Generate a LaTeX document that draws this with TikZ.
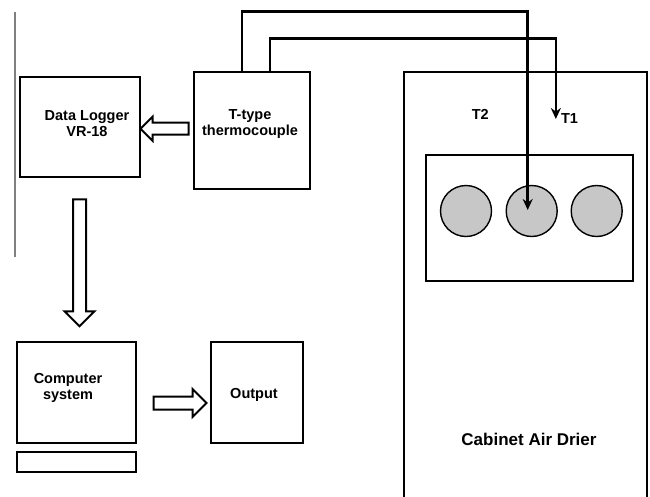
\documentclass[tikz,border=0pt]{standalone}
\usepackage{fontspec}
\setmainfont{Liberation Sans}
\usetikzlibrary{arrows.meta,shapes.arrows}

\tikzset{
  box/.style={draw,line width=2.8pt,inner sep=0pt},
  lbl/.style={font=\fontsize{14.5}{16}\selectfont\bfseries,align=center,inner sep=0pt},
  hollow/.style={single arrow,draw,line width=2pt,inner sep=0pt,text width=0pt,
    text depth=0pt,single arrow tip angle=90},
  wire/.style={line width=2.5pt,-{Stealth[length=11pt,width=10pt]}},
  bead/.style={circle,draw,line width=1.4pt,fill=black!22,minimum size=51pt,inner sep=0pt}
}

\begin{document}
\begin{tikzpicture}[x=1pt,y=-1pt]
\useasboundingbox (0,0) rectangle (650,496);
% stray edge line on the left
\draw[line width=1.2pt,black!50] (15,12) -- (15,257);
% blocks
\node[box,minimum width=120pt,minimum height=100pt] (logger) at (80,127) {};
\node[box,minimum width=116pt,minimum height=117pt] (tc) at (252,130.5) {};
\node[box,minimum width=119pt,minimum height=101pt] (comp) at (76.5,392.5) {};
\node[box,minimum width=119pt,minimum height=20pt] (kbd) at (76.5,462) {};
\node[box,minimum width=92pt,minimum height=101pt] (out) at (257,392.5) {};
% drier and its tray
\node[box,minimum width=243pt,minimum height=448pt] (cab) at (525.5,296) {};
\node[box,minimum width=207pt,minimum height=126pt] (tray) at (529.5,218) {};
\node[bead] (c1) at (466,211) {};
\node[bead] (c2) at (531.7,211) {};
\node[bead] (c3) at (596.7,211) {};
% texts
\node[lbl] (loggertxt) at ([xshift=7pt,yshift=3pt]logger.center) {Data Logger\\VR-18};
\node[lbl] (tctxt) at ([xshift=-2pt,yshift=6.5pt]tc.center) {T-type\\thermocouple};
\node[lbl] (comptxt) at ([xshift=-8.5pt,yshift=4.5pt]comp.center) {Computer\\system};
\node[lbl] (outtxt) at ([xshift=-3pt,yshift=-2.5pt]out.center) {Output};
\node[lbl,font=\fontsize{17}{19}\selectfont\bfseries] (cabtxt) at (529,439) {Cabinet Air Drier};
\node[lbl] (t2) at (480.3,114) {T2};
\node[lbl] (t1) at (569.5,119) {T1};
% hollow arrows
\node[hollow,text height=10pt,single arrow head extend=6pt,minimum height=48pt,
  shape border rotate=180] (a1) at (167.5,128.7) {};
\node[hollow,text height=0pt,text width=11pt,single arrow head extend=8.5pt,minimum height=127pt,
  shape border rotate=270] (a2) at (79.5,259.5) {};
\node[hollow,text height=11pt,single arrow head extend=7.5pt,minimum height=53pt] (a3) at (176.8,403) {};
% thermocouple wires
\draw[wire] ([xshift=-10pt]tc.north) -- ++(0,-59) -| ([xshift=-4pt,yshift=1pt]c2.center);
\draw[wire] ([xshift=18pt]tc.north) -- ++(0,-32) -| ([xshift=-5pt]t1.west);
\end{tikzpicture}
\end{document}
